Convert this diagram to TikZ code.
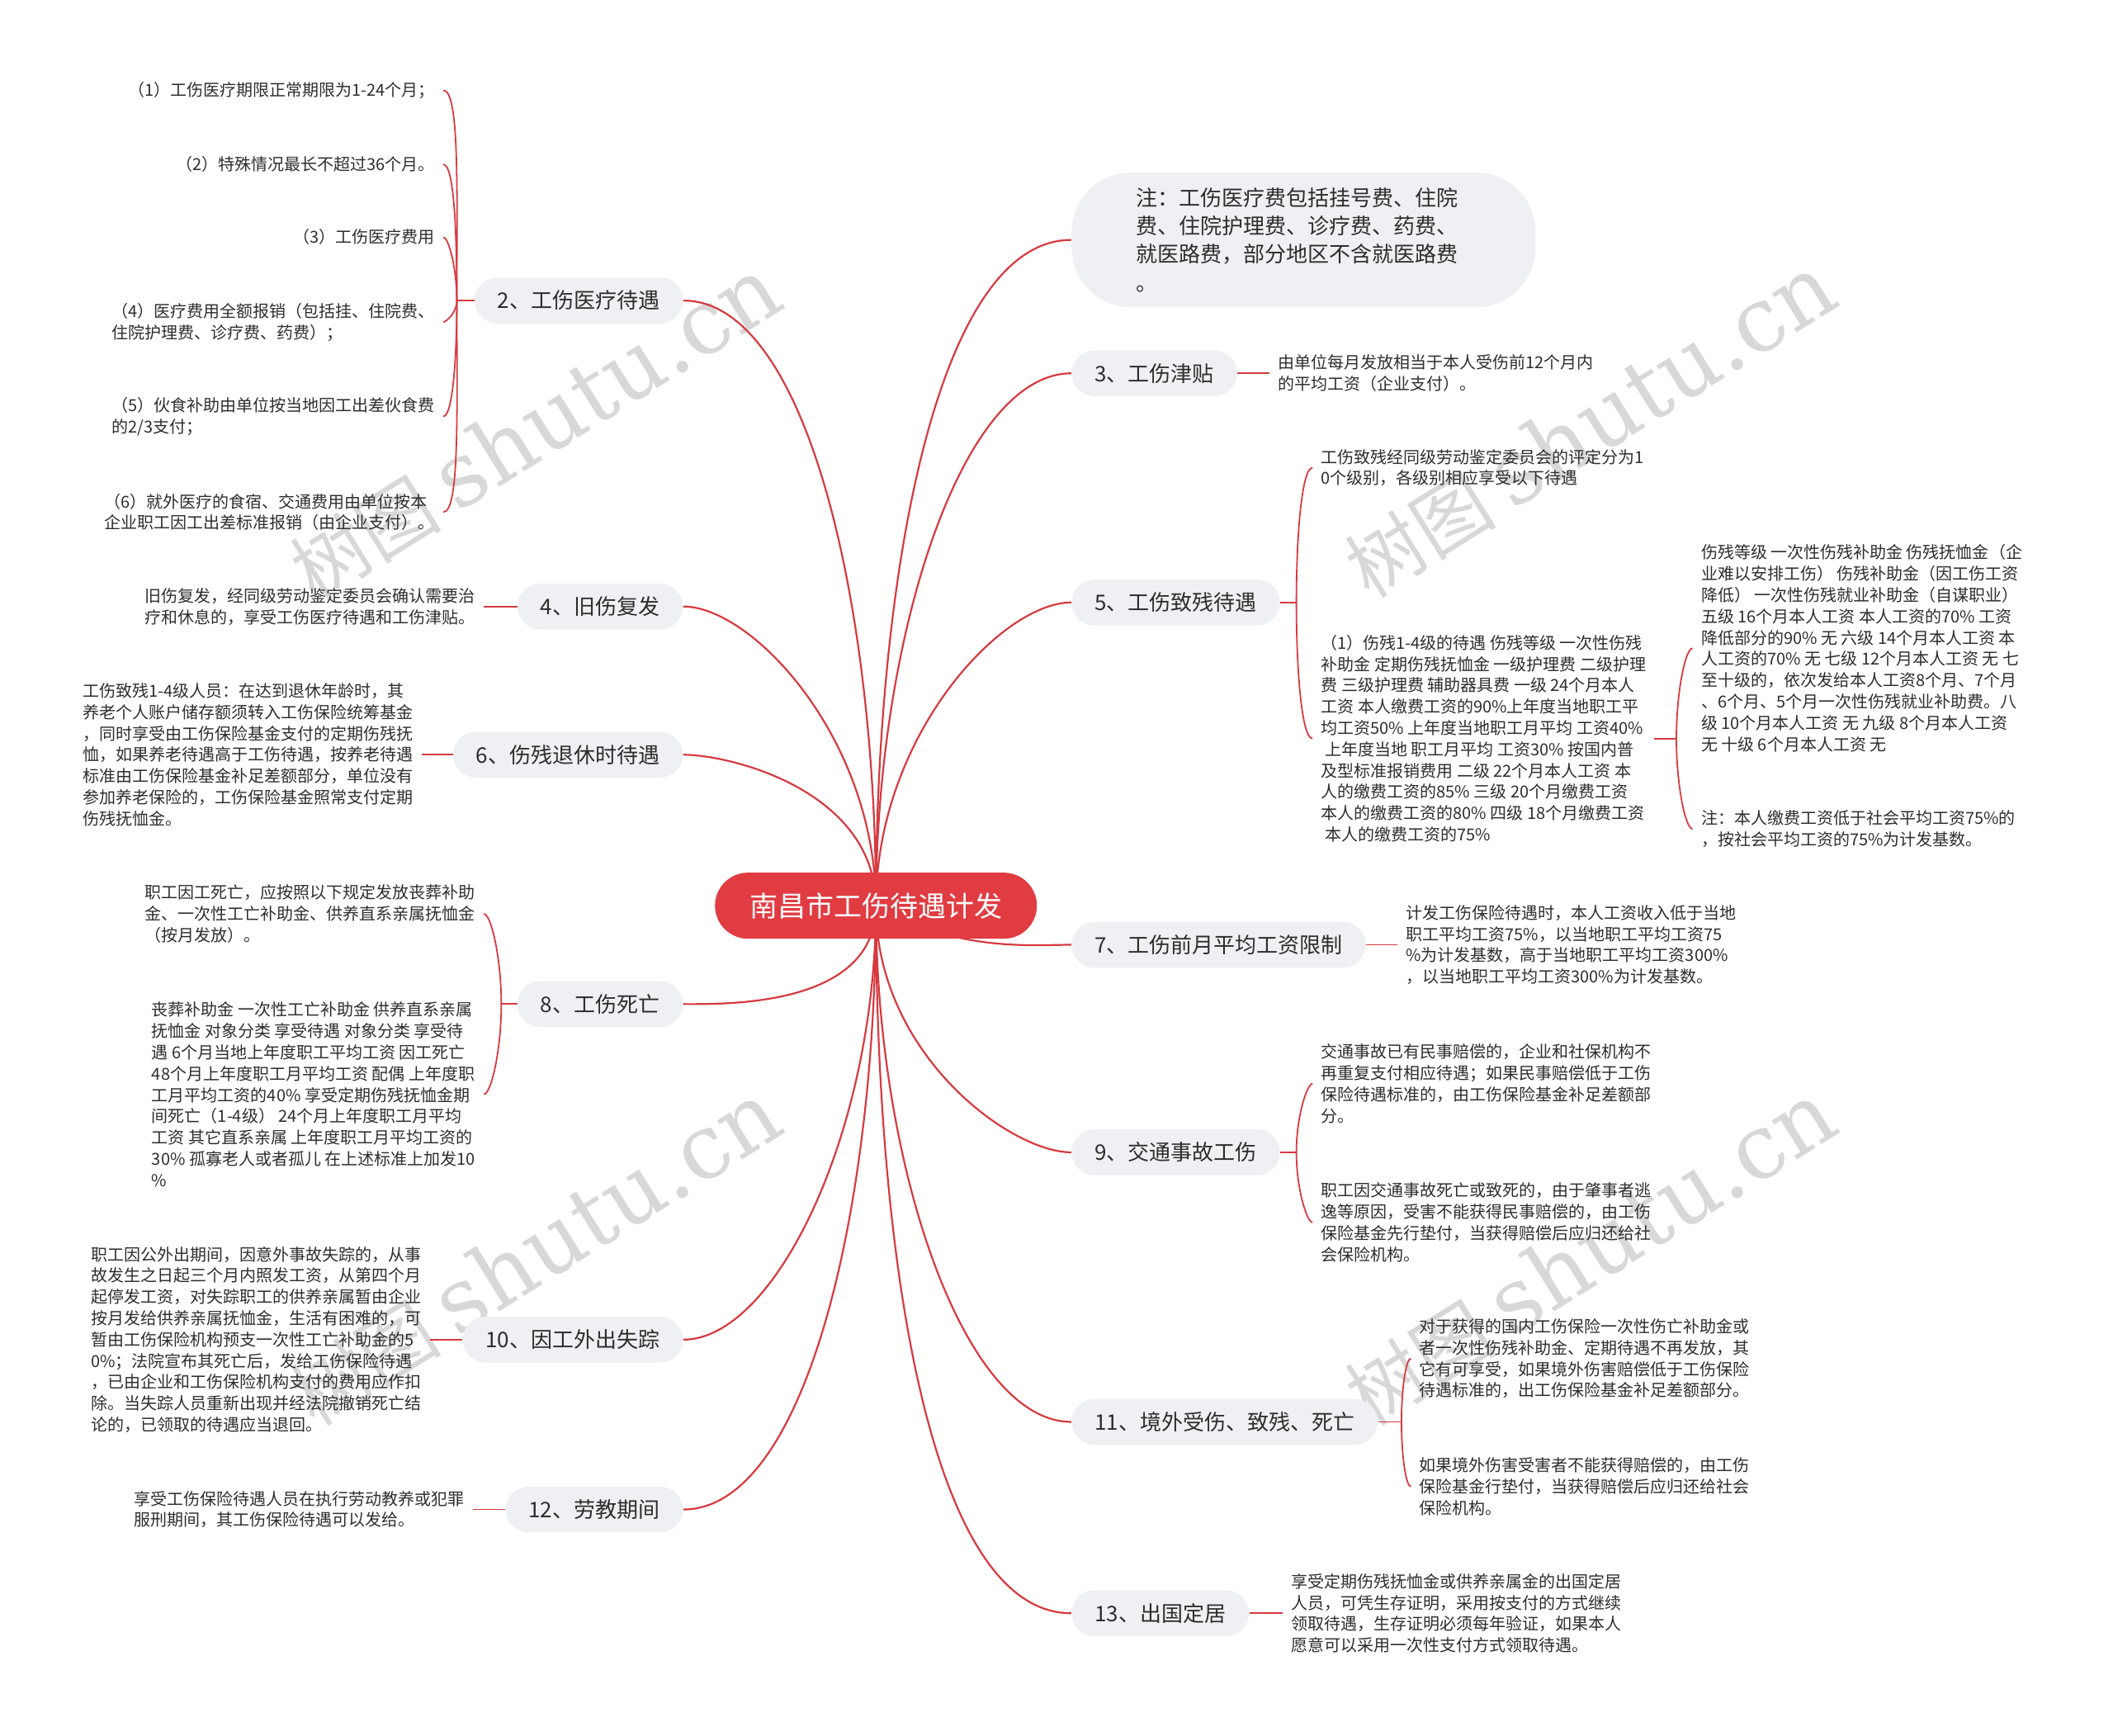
\documentclass[tikz,border=0pt]{standalone}
\usepackage{fontspec}
\setmainfont{Noto Sans CJK SC}
\newfontfamily\wmfont{DejaVu Serif}
\usetikzlibrary{backgrounds}

\definecolor{linered}{RGB}{214,58,64}
\definecolor{rootred}{RGB}{224,60,66}
\definecolor{pillgray}{RGB}{238,240,244}
\definecolor{textgray}{RGB}{45,45,45}
\definecolor{wmgray}{RGB}{216,216,216}

\newcommand*{\rootfont}{\fontsize{17}{20}\selectfont}
\newcommand*{\topicfont}{\fontsize{13}{16}\selectfont}
\newcommand*{\notefont}{\fontsize{13}{17.1}\selectfont}
\newcommand*{\leaffont}{\fontsize{10}{12.9}\selectfont}
\newcommand*{\wmtext}{{\fontsize{46}{46}\selectfont 树图}\hspace{10pt}{\wmfont\fontsize{54}{54}\selectfont shutu.cn}}

\begin{document}
\begin{tikzpicture}
[
	x=0.8163pt,
	y=-0.8163pt,
	root/.style={fill=rootred,text=white,font=\rootfont,rounded corners=20pt,minimum height=40pt,inner xsep=21pt},
	topic/.style={fill=pillgray,text=textgray,font=\topicfont,rounded corners=13.9pt,minimum height=27.8pt,inner xsep=14pt},
	notebox/.style={fill=pillgray,text=textgray,font=\notefont,rounded corners=36pt,minimum height=81.6pt,text width=203pt,inner xsep=39pt,align=left},
	leaf/.style={text=textgray,font=\leaffont,align=left,inner xsep=5pt,inner ysep=2pt},
	branch/.style={draw=linered,line width=1.1pt,out looseness=1.2,in looseness=0.5},
	bracket/.style={draw=linered,line width=0.9pt,out looseness=1.3,in looseness=0.2},
	stub/.style={draw=linered,line width=0.9pt},
	watermark/.style={text=wmgray,rotate=32,inner sep=0pt}
]
	\useasboundingbox (0,0) rectangle (1568,1288);

	% centre
	\node[root] (root) at (650,672) {南昌市工伤待遇计发};

	% left topics
	\node[topic,anchor=east] (b2) at (507,223) {2、工伤医疗待遇};
	\node[topic,anchor=east] (b4) at (507,450) {4、旧伤复发};
	\node[topic,anchor=east] (b6) at (507,560) {6、伤残退休时待遇};
	\node[topic,anchor=east] (b8) at (507,745) {8、工伤死亡};
	\node[topic,anchor=east] (b10) at (507,994) {10、因工外出失踪};
	\node[topic,anchor=east] (b12) at (507,1120) {12、劳教期间};

	% right topics
	\node[notebox,anchor=west] (note) at (795,178) {注：工伤医疗费包括挂号费、住院\\费、住院护理费、诊疗费、药费、\\就医路费，部分地区不含就医路费\\。};
	\node[topic,anchor=west] (b3) at (795,277) {3、工伤津贴};
	\node[topic,anchor=west] (b5) at (795,447) {5、工伤致残待遇};
	\node[topic,anchor=west] (b7) at (795,701) {7、工伤前月平均工资限制};
	\node[topic,anchor=west] (b9) at (795,855) {9、交通事故工伤};
	\node[topic,anchor=west] (b11) at (795,1055) {11、境外受伤、致残、死亡};
	\node[topic,anchor=west] (b13) at (795,1197) {13、出国定居};

	% left leaves
	\node[leaf,anchor=east] (l21) at (329,67) {（1）工伤医疗期限正常期限为1-24个月；};
	\node[leaf,anchor=east] (l22) at (329,122) {（2）特殊情况最长不超过36个月。};
	\node[leaf,anchor=east] (l23) at (329,176) {（3）工伤医疗费用};
	\node[leaf,anchor=east] (l24) at (329,239) {（4）医疗费用全额报销（包括挂、住院费、\\住院护理费、诊疗费、药费）；};
	\node[leaf,anchor=east] (l25) at (329,309) {（5）伙食补助由单位按当地因工出差伙食费\\的2/3支付；};
	\node[leaf,anchor=east] (l26) at (329,380) {（6）就外医疗的食宿、交通费用由单位按本\\企业职工因工出差标准报销（由企业支付）。};
	\node[leaf,anchor=east] (l4) at (359,450) {旧伤复发，经同级劳动鉴定委员会确认需要治\\疗和休息的，享受工伤医疗待遇和工伤津贴。};
	\node[leaf,anchor=east] (l6) at (313,560) {工伤致残1-4级人员：在达到退休年龄时，其\\养老个人账户储存额须转入工伤保险统筹基金\\，同时享受由工伤保险基金支付的定期伤残抚\\恤，如果养老待遇高于工伤待遇，按养老待遇\\标准由工伤保险基金补足差额部分，单位没有\\参加养老保险的，工伤保险基金照常支付定期\\伤残抚恤金。};
	\node[leaf,anchor=east] (l81) at (359,678) {职工因工死亡，应按照以下规定发放丧葬补助\\金、一次性工亡补助金、供养直系亲属抚恤金\\（按月发放）。};
	\node[leaf,anchor=east] (l82) at (359,812) {丧葬补助金 一次性工亡补助金 供养直系亲属\\抚恤金 对象分类 享受待遇 对象分类 享受待\\遇 6个月当地上年度职工平均工资 因工死亡\\48个月上年度职工月平均工资 配偶 上年度职\\工月平均工资的40\% 享受定期伤残抚恤金期\\间死亡（1-4级） 24个月上年度职工月平均\\工资 其它直系亲属 上年度职工月平均工资的\\30\% 孤寡老人或者孤儿 在上述标准上加发10\\\%};
	\node[leaf,anchor=east] (l10) at (319,994) {职工因公外出期间，因意外事故失踪的，从事\\故发生之日起三个月内照发工资，从第四个月\\起停发工资，对失踪职工的供养亲属暂由企业\\按月发给供养亲属抚恤金，生活有困难的，可\\暂由工伤保险机构预支一次性工亡补助金的5\\0\%；法院宣布其死亡后，发给工伤保险待遇\\，已由企业和工伤保险机构支付的费用应作扣\\除。当失踪人员重新出现并经法院撤销死亡结\\论的，已领取的待遇应当退回。};
	\node[leaf,anchor=east] (l12) at (351,1120) {享受工伤保险待遇人员在执行劳动教养或犯罪\\服刑期间，其工伤保险待遇可以发给。};

	% right leaves
	\node[leaf,anchor=west] (l3) at (942,277) {由单位每月发放相当于本人受伤前12个月内\\的平均工资（企业支付）。};
	\node[leaf,anchor=west] (l51) at (974,347) {工伤致残经同级劳动鉴定委员会的评定分为1\\0个级别，各级别相应享受以下待遇};
	\node[leaf,anchor=west] (l52) at (974,548) {（1）伤残1-4级的待遇 伤残等级 一次性伤残\\补助金 定期伤残抚恤金 一级护理费 二级护理\\费 三级护理费 辅助器具费 一级 24个月本人\\工资 本人缴费工资的90\%上年度当地职工平\\均工资50\% 上年度当地职工月平均 工资40\%\\~上年度当地 职工月平均 工资30\% 按国内普\\及型标准报销费用 二级 22个月本人工资 本\\人的缴费工资的85\% 三级 20个月缴费工资\\本人的缴费工资的80\% 四级 18个月缴费工资\\~本人的缴费工资的75\%};
	\node[leaf,anchor=west] (l53) at (1256,481) {伤残等级 一次性伤残补助金 伤残抚恤金（企\\业难以安排工伤） 伤残补助金（因工伤工资\\降低） 一次性伤残就业补助金（自谋职业）\\五级 16个月本人工资 本人工资的70\% 工资\\降低部分的90\% 无 六级 14个月本人工资 本\\人工资的70\% 无 七级 12个月本人工资 无 七\\至十级的，依次发给本人工资8个月、7个月\\、6个月、5个月一次性伤残就业补助费。八\\级 10个月本人工资 无 九级 8个月本人工资\\无 十级 6个月本人工资 无};
	\node[leaf,anchor=west] (l54) at (1256,615) {注：本人缴费工资低于社会平均工资75\%的\\，按社会平均工资的75\%为计发基数。};
	\node[leaf,anchor=west] (l7) at (1037,701) {计发工伤保险待遇时，本人工资收入低于当地\\职工平均工资75\%，以当地职工平均工资75\\\%为计发基数，高于当地职工平均工资300\%\\，以当地职工平均工资300\%为计发基数。};
	\node[leaf,anchor=west] (l91) at (974,804) {交通事故已有民事赔偿的，企业和社保机构不\\再重复支付相应待遇；如果民事赔偿低于工伤\\保险待遇标准的，由工伤保险基金补足差额部\\分。};
	\node[leaf,anchor=west] (l92) at (974,907) {职工因交通事故死亡或致死的，由于肇事者逃\\逸等原因，受害不能获得民事赔偿的，由工伤\\保险基金先行垫付，当获得赔偿后应归还给社\\会保险机构。};
	\node[leaf,anchor=west] (l111) at (1047,1008) {对于获得的国内工伤保险一次性伤亡补助金或\\者一次性伤残补助金、定期待遇不再发放，其\\它有可享受，如果境外伤害赔偿低于工伤保险\\待遇标准的，出工伤保险基金补足差额部分。};
	\node[leaf,anchor=west] (l112) at (1047,1103) {如果境外伤害受害者不能获得赔偿的，由工伤\\保险基金行垫付，当获得赔偿后应归还给社会\\保险机构。};
	\node[leaf,anchor=west] (l13) at (952,1197) {享受定期伤残抚恤金或供养亲属金的出国定居\\人员，可凭生存证明，采用按支付的方式继续\\领取待遇，生存证明必须每年验证，如果本人\\愿意可以采用一次性支付方式领取待遇。};

	% bracket joints
	\coordinate (j2) at (339,223);
	\coordinate (j8) at (372,745);
	\coordinate (j5) at (962,447);
	\coordinate (j5b) at (1244,548);
	\coordinate (j9) at (962,855);
	\coordinate (j11) at (1040,1055);

	\begin{scope}[on background layer]
		% watermarks
		\node[watermark] (wm1) at (397,318) {\wmtext};
		\node[watermark] (wm2) at (1180,316) {\wmtext};
		\node[watermark] (wm3) at (397,930) {\wmtext};
		\node[watermark] (wm4) at (1180,930) {\wmtext};

		% main branches
		\draw[branch] (root.center) to[out=90,in=0] (b2.east);
		\draw[branch] (root.center) to[out=90,in=0] (b4.east);
		\draw[branch] (root.center) to[out=90,in=0] (b6.east);
		\draw[branch] (root.center) to[out=-90,in=0] (b8.east);
		\draw[branch] (root.center) to[out=-90,in=0] (b10.east);
		\draw[branch] (root.center) to[out=-90,in=0] (b12.east);
		\draw[branch] (root.center) to[out=90,in=180] (note.west);
		\draw[branch] (root.center) to[out=90,in=180] (b3.west);
		\draw[branch] (root.center) to[out=90,in=180] (b5.west);
		\draw[branch] (root.center) to[out=-30,in=180] (b7.west);
		\draw[branch] (root.center) to[out=-90,in=180] (b9.west);
		\draw[branch] (root.center) to[out=-90,in=180] (b11.west);
		\draw[branch] (root.center) to[out=-90,in=180] (b13.west);
	\end{scope}

	% single leaves
	\draw[stub] (b4.west) -- (l4.east);
	\draw[stub] (b6.west) -- (l6.east);
	\draw[stub] (b10.west) -- (l10.east);
	\draw[stub] (b12.west) -- (l12.east);
	\draw[stub] (b3.east) -- (l3.west);
	\draw[stub] (b7.east) -- (l7.west);
	\draw[stub] (b13.east) -- (l13.west);

	% brackets
	\draw[stub] (b2.west) -- (j2);
	\draw[bracket] (j2) to[out=90,in=0] (l21.east);
	\draw[bracket] (j2) to[out=90,in=0] (l22.east);
	\draw[bracket] (j2) to[out=90,in=0] (l23.east);
	\draw[bracket] (j2) to[out=-90,in=0] (l24.east);
	\draw[bracket] (j2) to[out=-90,in=0] (l25.east);
	\draw[bracket] (j2) to[out=-90,in=0] (l26.east);

	\draw[stub] (b8.west) -- (j8);
	\draw[bracket] (j8) to[out=90,in=0] (l81.east);
	\draw[bracket] (j8) to[out=-90,in=0] (l82.east);

	\draw[stub] (b5.east) -- (j5);
	\draw[bracket] (j5) to[out=90,in=180] (l51.west);
	\draw[bracket] (j5) to[out=-90,in=180] (l52.west);

	\draw[stub] (l52.east) -- (j5b);
	\draw[bracket] (j5b) to[out=90,in=180] (l53.west);
	\draw[bracket] (j5b) to[out=-90,in=180] (l54.west);

	\draw[stub] (b9.east) -- (j9);
	\draw[bracket] (j9) to[out=90,in=180] (l91.west);
	\draw[bracket] (j9) to[out=-90,in=180] (l92.west);

	\draw[stub] (b11.east) -- (j11);
	\draw[bracket] (j11) to[out=90,in=180] (l111.west);
	\draw[bracket] (j11) to[out=-90,in=180] (l112.west);

\end{tikzpicture}
\end{document}
